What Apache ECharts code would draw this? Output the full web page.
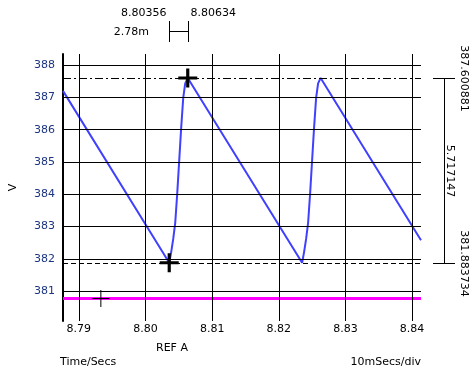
<!DOCTYPE html>
<html>
<head>
<meta charset="utf-8">
<script src="https://cdn.jsdelivr.net/npm/echarts@6/dist/echarts.min.js"></script>
<style>html,body{margin:0;padding:0;background:#fff}#main{width:476px;height:380px}</style>
</head>
<body>
<div id="main"></div>
<script>
// ---- data ----
const xTicks = [8.79, 8.80, 8.81, 8.82, 8.83, 8.84];
const xMinorTicks = [8.795, 8.805, 8.815, 8.825, 8.835];
const yTicks = [381, 382, 383, 384, 385, 386, 387, 388];
const xRange = [8.78762, 8.84134];
const yRange = [380.081, 388.34];

const waveT = [8.78762, 8.80356, 8.80386, 8.80416, 8.80446, 8.80476, 8.80506, 8.80536, 8.80566, 8.80596, 8.80634,
               8.82350, 8.82380, 8.82410, 8.82440, 8.82470, 8.82500, 8.82530, 8.82560, 8.82590, 8.82628, 8.84134];
const waveV = [387.20, 381.88, 382.22, 382.62, 383.12, 384.02, 385.05, 386.08, 386.98, 387.43, 387.60,
               381.88, 382.22, 382.62, 383.12, 384.02, 385.05, 386.08, 386.98, 387.43, 387.60, 382.58];

const refT = [8.78762, 8.84134];
const refV = [380.78, 380.78];

const cursorT = [8.80356, 8.80634];
const cursorV = [387.600881, 381.883734];
const cursorTLabels = ['8.80356', '8.80634'];
const cursorVLabels = ['387.600881', '381.883734'];
const deltaTLabel = '2.78m';
const deltaVLabel = '5.717147';

const bigMarkT = [8.80634, 8.80356];
const bigMarkV = [387.600881, 381.883734];
const smallMarkT = [8.7933];
const smallMarkV = [380.78];

const FONT = 'DejaVu Sans';

const chart = echarts.init(document.getElementById('main'));
const option = {
  animation: false,
  grid: { left: 60, right: 55, top: 54, bottom: 59 },
  xAxis: {
    type: 'value', min: xRange[0], max: xRange[1],
    axisLine: { show: false }, axisTick: { show: false, customValues: xTicks },
    splitLine: { show: false },
    axisLabel: { customValues: xTicks, formatter: v => v.toFixed(2), color: '#000', fontFamily: FONT, fontSize: 11, margin: 3 }
  },
  yAxis: {
    type: 'value', min: yRange[0], max: yRange[1],
    name: 'V', nameLocation: 'middle', nameRotate: 90, nameGap: 44,
    nameTextStyle: { color: '#000', fontFamily: FONT, fontSize: 11 },
    axisLine: { show: true, lineStyle: { color: '#000', width: 2 } },
    axisTick: { show: false, customValues: yTicks },
    splitLine: { show: false },
    axisLabel: { customValues: yTicks, formatter: v => String(Math.round(v)), color: '#1c3580', fontFamily: FONT, fontSize: 11, margin: 8 }
  },
  series: [
    { type: 'line', data: [], z: 1, silent: true,
      markLine: { silent: true, symbol: 'none', label: { show: false }, animation: false,
        lineStyle: { color: '#000', width: 1, type: 'solid' },
        data: xMinorTicks.map(v => ({ xAxis: v, lineStyle: { color: '#c4c4c4', width: 1, type: 'solid' } }))
          .concat(xTicks.map(v => ({ xAxis: v })))
          .concat(yTicks.map(v => ({ yAxis: v })))
      } },
    { type: 'line', data: refT.map((t, i) => [t, refV[i]]), showSymbol: false, z: 3,
      lineStyle: { color: '#ff00ff', width: 3 } },
    { type: 'line', data: waveT.map((t, i) => [t, waveV[i]]), showSymbol: false, z: 3,
      lineStyle: { color: '#4040ff', width: 2 } },
    { type: 'line', data: [], z: 4, silent: true,
      markLine: { silent: true, symbol: 'none', label: { show: false }, animation: false,
        data: [
          { xAxis: cursorT[0], lineStyle: { color: '#000', width: 1, type: [5, 3] } },
          { xAxis: cursorT[1], lineStyle: { color: '#000', width: 1, type: [8, 3, 2, 3] } },
          { yAxis: cursorV[0], lineStyle: { color: '#000', width: 1, type: [8, 3, 2, 3] } },
          { yAxis: cursorV[1], lineStyle: { color: '#000', width: 1, type: [5, 3] } }
        ] } },
    { type: 'scatter', data: bigMarkT.map((t, i) => [t, bigMarkV[i]]), z: 5, silent: true,
      symbol: 'path://M0,8H18V11H0Z M7.5,0H10.5V19H7.5Z', symbolSize: [19, 19],
      itemStyle: { color: '#000', opacity: 1 } },
    { type: 'scatter', data: smallMarkT.map((t, i) => [t, smallMarkV[i]]), z: 5, silent: true,
      symbol: 'path://M0,8H17V9H0Z M8,0H9V17H8Z', symbolSize: [17, 17],
      itemStyle: { color: '#000', opacity: 1 } }
  ]
};
chart.setOption(option);

const pA = chart.convertToPixel({ gridIndex: 0 }, [cursorT[0], cursorV[0]]);
const pB = chart.convertToPixel({ gridIndex: 0 }, [cursorT[1], cursorV[1]]);
const xa = Math.round(pA[0]) + 0.5, xb = Math.round(pB[0]) + 0.5;
const ya = Math.round(pA[1]) + 0.5, yb = Math.round(pB[1]) + 0.5;
const txt = (s, x, y, align, vAlign, rot) => ({
  type: 'text', x: x, y: y, rotation: rot || 0, silent: true,
  style: { text: s, fill: '#000', font: '11px "' + FONT + '"', align: align, verticalAlign: vAlign }
});
const seg = (x1, y1, x2, y2) => ({ type: 'line', silent: true, shape: { x1, y1, x2, y2 }, style: { stroke: '#000', lineWidth: 1 } });
const bx = 444.5;
chart.setOption({
  graphic: [
    txt(cursorTLabels[0], xa - 3, 13, 'right', 'middle'),
    txt(cursorTLabels[1], xb + 2, 13, 'left', 'middle'),
    txt(deltaTLabel, 149, 32, 'right', 'middle'),
    seg(xa, 21, xa, 42), seg(xb, 21, xb, 42), seg(xa, 31.5, xb, 31.5),
    seg(bx, ya, bx, yb), seg(433, ya, 455, ya), seg(433, yb, 455, yb),
    txt(cursorVLabels[0], 464, ya, 'center', 'middle', -Math.PI / 2),
    txt(cursorVLabels[1], 464, yb, 'center', 'middle', -Math.PI / 2),
    txt(deltaVLabel, 450, (ya + yb) / 2, 'center', 'middle', -Math.PI / 2),
    txt('REF A', 172, 348, 'center', 'middle'),
    txt('Time/Secs', 60, 362, 'left', 'middle'),
    txt('10mSecs/div', 421, 362, 'right', 'middle')
  ]
});
</script>
</body>
</html>
